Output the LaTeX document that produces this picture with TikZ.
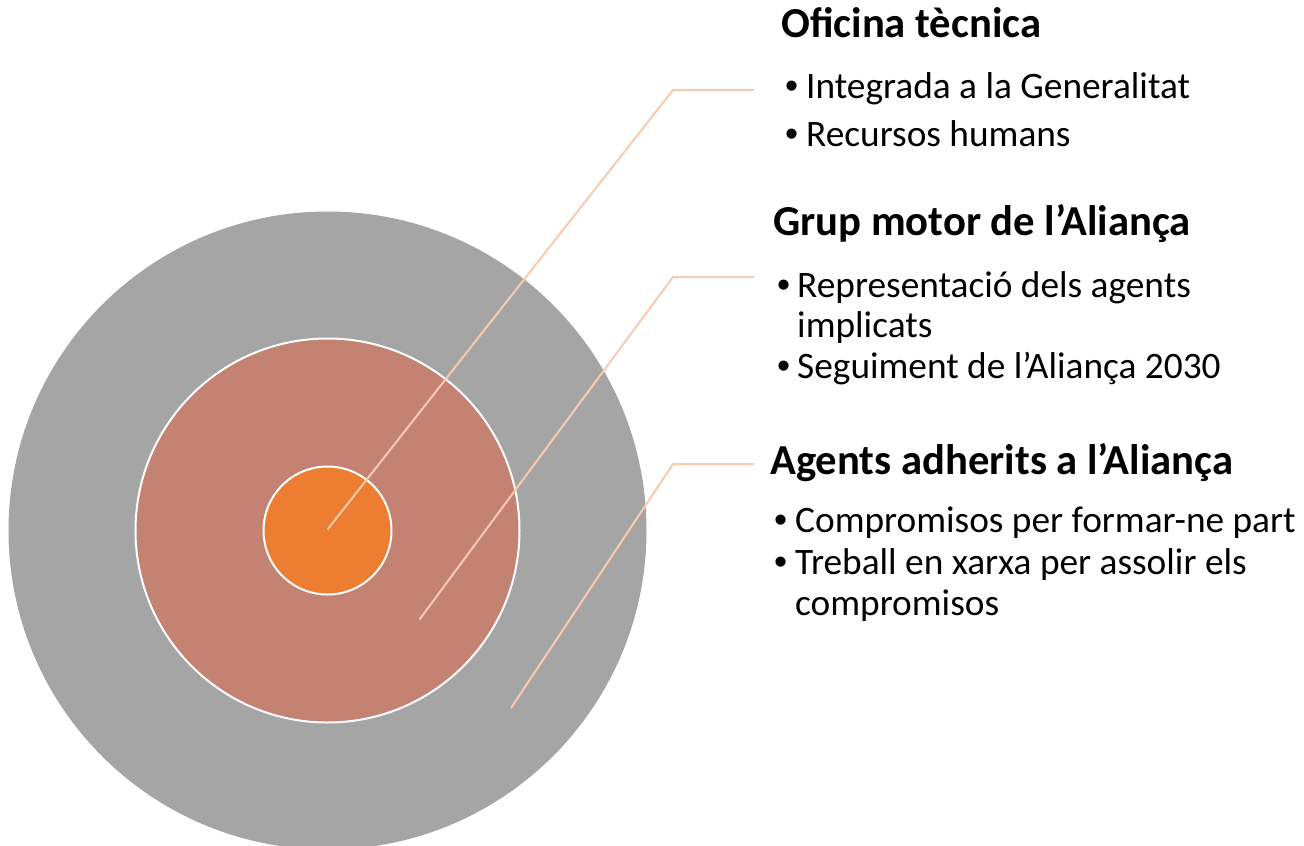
\documentclass[tikz,border=0pt]{standalone}
\usepackage{fontspec}
\setmainfont{Carlito}
\newfontfamily\bulletfont{Liberation Sans}
\definecolor{ringgray}{HTML}{A5A5A5}
\definecolor{ringmid}{HTML}{C48272}
\definecolor{ringcore}{HTML}{ED7D31}
\definecolor{leadercol}{HTML}{F8CBAD}
\tikzset{
  ring/.style={circle, inner sep=0pt, outer sep=0pt},
  leader/.style={draw=leadercol, line width=2pt, line join=miter},
  titletext/.style={anchor=base west, inner sep=0pt, font=\fontsize{42.67}{50}\selectfont\bfseries},
  bodytext/.style={anchor=base west, inner sep=0pt, font=\fontsize{37.33}{44}\selectfont},
  bulletmark/.style={anchor=base west, inner sep=0pt, font=\bulletfont\fontsize{37.33}{44}\selectfont}
}
\begin{document}
\begin{tikzpicture}[x=1pt,y=-1pt]
\useasboundingbox (0,0) rectangle (1304,846);
\clip (0,0) rectangle (1304,846);
% rings
\node[ring, fill=ringgray, minimum size=638pt] (outer) at (327.5,530.5) {};
\node[ring, fill=ringmid, draw=white, line width=2pt, minimum size=384pt] (middle) at (327.5,530.5) {};
\node[ring, fill=ringcore, draw=white, line width=2pt, minimum size=128pt] (inner) at (327.5,530.5) {};
% leader lines
\coordinate (s1) at (327.5,529.5);
\coordinate (k1) at (673,90);
\coordinate (e1) at (754,90);
\coordinate (s2) at (419.5,619.5);
\coordinate (k2) at (673,277);
\coordinate (e2) at (754,277);
\coordinate (s3) at (511,708);
\coordinate (k3) at (673,464);
\coordinate (e3) at (754,464);
\draw[leader] (s1) -- (k1) -- (e1);
\draw[leader] (s2) -- (k2) -- (e2);
\draw[leader] (s3) -- (k3) -- (e3);
% group 1
\node[titletext] (t1) at (781,37) {Oficina tècnica};
\node[bulletmark] (b11) at (785,98) {•};
\node[bodytext] (l11) at (806,98) {Integrada a la Generalitat};
\node[bulletmark] (b12) at (785,146) {•};
\node[bodytext] (l12) at (806,146) {Recursos humans};
% group 2
\node[titletext] (t2) at (773,235) {Grup motor de l’Aliança};
\node[bulletmark] (b21) at (777,297) {•};
\node[bodytext] (l21) at (797,297) {Representació dels agents};
\node[bodytext] (l22) at (797,337) {implicats};
\node[bulletmark] (b23) at (777,378) {•};
\node[bodytext] (l23) at (797,378) {Seguiment de l’Aliança 2030};
% group 3
\node[titletext] (t3) at (770,474) {Agents adherits a l’Aliança};
\node[bulletmark] (b31) at (774,532) {•};
\node[bodytext] (l31) at (795,532) {Compromisos per formar-ne part};
\node[bulletmark] (b32) at (774,574) {•};
\node[bodytext] (l32) at (795,574) {Treball en xarxa per assolir els};
\node[bodytext] (l33) at (795,615) {compromisos};
\end{tikzpicture}
\end{document}
